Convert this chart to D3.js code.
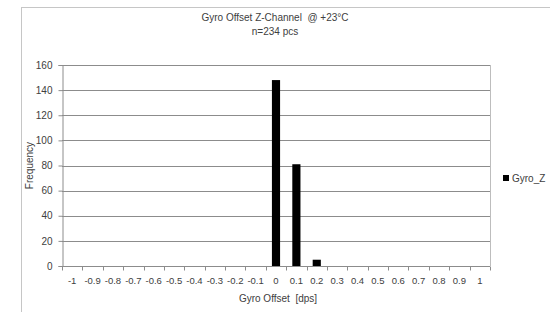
<!DOCTYPE html>
<html>
<head>
<meta charset="utf-8">
<script src="https://cdn.jsdelivr.net/npm/d3@7"></script>
<style>
  body { margin: 0; background: #fff; }
  svg text { font-family: "Liberation Sans", Arial, sans-serif; fill: #404040; white-space: pre; }
</style>
</head>
<body>
<div id="chart"></div>
<script>
// Histogram bins (dps) and counts
const bins = ["-1", "-0.9", "-0.8", "-0.7", "-0.6", "-0.5", "-0.4", "-0.3", "-0.2", "-0.1",
              "0", "0.1", "0.2", "0.3", "0.4", "0.5", "0.6", "0.7", "0.8", "0.9", "1"];
const counts = [0, 0, 0, 0, 0, 0, 0, 0, 0, 0, 148, 81, 5, 0, 0, 0, 0, 0, 0, 0, 0];
const yTicks = [0, 20, 40, 60, 80, 100, 120, 140, 160];
const seriesName = "Gyro_Z";

const width = 550, height = 312;
const margin = {top: 65, right: 60, bottom: 46, left: 62};

const svg = d3.select("#chart").append("svg")
    .attr("width", width)
    .attr("height", height);

// Chart area border
svg.append("rect")
    .attr("x", 21.5).attr("y", 7.5)
    .attr("width", 560).attr("height", 320)
    .attr("fill", "none")
    .attr("stroke", "#c6c6c6");

const x = d3.scaleBand()
    .domain(bins)
    .range([margin.left, width - margin.right]);

const xEdge = d3.scaleLinear()
    .domain([0, bins.length])
    .range([margin.left, width - margin.right]);

const y = d3.scaleLinear()
    .domain([0, 160])
    .range([height - margin.bottom, margin.top]);

// Gridlines
svg.append("g")
    .selectAll("line")
    .data(yTicks.slice(1))
    .join("line")
    .attr("x1", margin.left).attr("x2", width - margin.right)
    .attr("y1", d => Math.round(y(d)) + 0.5).attr("y2", d => Math.round(y(d)) + 0.5)
    .attr("stroke", "#8c8c8c");

// Plot area right border
svg.append("line")
    .attr("x1", width - margin.right + 0.5).attr("x2", width - margin.right + 0.5)
    .attr("y1", margin.top).attr("y2", height - margin.bottom)
    .attr("stroke", "#bdbdbd");

// Bars (Excel-like gap width: bar = step / 2.5)
const barW = x.step() / 2.5;
svg.append("g")
    .selectAll("rect")
    .data(counts.map((c, i) => ({bin: bins[i], count: c})).filter(d => d.count > 0))
    .join("rect")
    .attr("x", d => x(d.bin) + (x.step() - barW) / 2)
    .attr("width", barW)
    .attr("y", d => y(d.count))
    .attr("height", d => y(0) - y(d.count))
    .attr("fill", "#000");

// Y axis
const yAxis = svg.append("g")
    .attr("transform", `translate(${margin.left + 0.5},0)`)
    .call(d3.axisLeft(y).tickValues(yTicks).tickSize(4).tickPadding(6));
yAxis.select(".domain").attr("stroke", "#8c8c8c");
yAxis.selectAll(".tick line").attr("stroke", "#8c8c8c");
yAxis.selectAll("text").style("font-size", "10px").attr("fill", "#404040");

// X axis (ticks on bin edges, labels centered in bins)
const xAxisG = svg.append("g")
    .attr("transform", `translate(0,${Math.round(y(0)) + 0.5})`);
xAxisG.append("line")
    .attr("x1", margin.left).attr("x2", width - margin.right)
    .attr("stroke", "#8c8c8c");
xAxisG.selectAll(".edge")
    .data(d3.range(bins.length + 1))
    .join("line")
    .attr("class", "edge")
    .attr("x1", d => Math.round(xEdge(d)) + 0.5).attr("x2", d => Math.round(xEdge(d)) + 0.5)
    .attr("y1", 0).attr("y2", 4)
    .attr("stroke", "#8c8c8c");
xAxisG.selectAll(".lab")
    .data(bins)
    .join("text")
    .attr("class", "lab")
    .attr("x", d => x(d) + x.step() / 2)
    .attr("y", 17)
    .attr("text-anchor", "middle")
    .style("font-size", "9.5px")
    .text(d => d);

// Titles
svg.append("text")
    .attr("x", 275).attr("y", 21)
    .attr("text-anchor", "middle")
    .style("font-size", "10px")
    .text("Gyro Offset Z-Channel  @ +23°C");
svg.append("text")
    .attr("x", 275).attr("y", 35)
    .attr("text-anchor", "middle")
    .style("font-size", "10px")
    .text("n=234 pcs");

svg.append("text")
    .attr("x", 278).attr("y", 302)
    .attr("text-anchor", "middle")
    .style("font-size", "10px")
    .text("Gyro Offset  [dps]");

svg.append("text")
    .attr("transform", `translate(33,${(margin.top + height - margin.bottom) / 2}) rotate(-90)`)
    .attr("text-anchor", "middle")
    .style("font-size", "10px")
    .text("Frequency");

// Legend
svg.append("rect")
    .attr("x", 503).attr("y", 175)
    .attr("width", 6).attr("height", 6)
    .attr("fill", "#000");
svg.append("text")
    .attr("x", 512).attr("y", 182)
    .style("font-size", "10px")
    .text(seriesName);
</script>
</body>
</html>
